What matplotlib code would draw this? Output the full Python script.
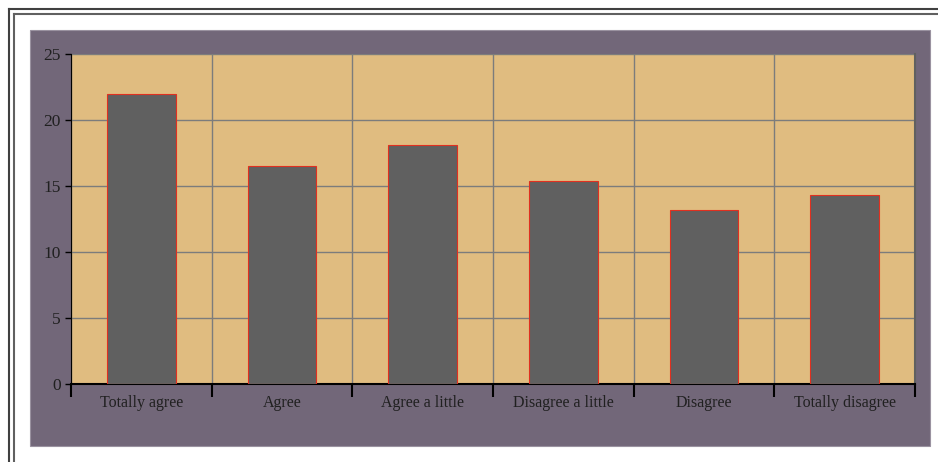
import matplotlib.pyplot as plt
from matplotlib.patches import Rectangle
from matplotlib.lines import Line2D

categories = ['Totally agree', 'Agree', 'Agree a little',
              'Disagree a little', 'Disagree', 'Totally disagree']
values = [22.0, 16.5, 18.1, 15.4, 13.2, 14.3]
yticks = [0, 5, 10, 15, 20, 25]

W, H = 938, 462
plt.rcParams['font.family'] = ['Liberation Serif', 'DejaVu Serif']

fig = plt.figure(figsize=(W / 100, H / 100), dpi=100)
fig.patch.set_facecolor('white')

# double frame lines (top and left only, picture is cropped)
for p, c in [(8.5, '#404040'), (13.5, '#606060')]:
    fig.add_artist(Line2D([p / W, 1], [1 - p / H, 1 - p / H], color=c, lw=1.5,
                          transform=fig.transFigure))
    fig.add_artist(Line2D([p / W, p / W], [0, 1 - p / H], color=c, lw=1.5,
                          transform=fig.transFigure))

# purple chart panel
fig.add_artist(Rectangle((30 / W, (H - 446) / H), 900 / W, 416 / H,
                         facecolor='#726779', edgecolor='#9a92a0', lw=0.8,
                         transform=fig.transFigure, zorder=0))

ax = fig.add_axes([71 / W, (H - 384) / H, (915 - 71) / W, (384 - 54) / H])
ax.set_facecolor('#E0BC80')

x = [i + 0.5 for i in range(len(categories))]
ax.bar(x, values, width=0.49, color='#606060', edgecolor='#E03020',
       linewidth=0.8, zorder=3)

ax.set_xlim(0, len(categories))
ax.set_ylim(0, 25)
ax.set_yticks(yticks)
ax.set_xticks(range(len(categories) + 1))
ax.set_xticklabels([])
ax.set_xticks(x, minor=True)
ax.set_xticklabels(categories, minor=True)
ax.tick_params(axis='x', which='major', length=9, width=1.5, color='black')
ax.tick_params(axis='x', which='minor', length=0, pad=8, labelsize=11.5,
               labelcolor='#202020')
ax.tick_params(axis='y', length=4, width=1, labelsize=12.5, labelcolor='#202020')

ax.grid(True, which='major', color='#7c7c7c', lw=1, zorder=1)
ax.set_axisbelow(True)

ax.spines['top'].set_visible(False)
ax.spines['right'].set_color('#606060')
ax.spines['right'].set_linewidth(1.5)
ax.spines['left'].set_color('black')
ax.spines['bottom'].set_color('black')
ax.spines['bottom'].set_linewidth(1.5)

fig.savefig('out.png', dpi=100)
